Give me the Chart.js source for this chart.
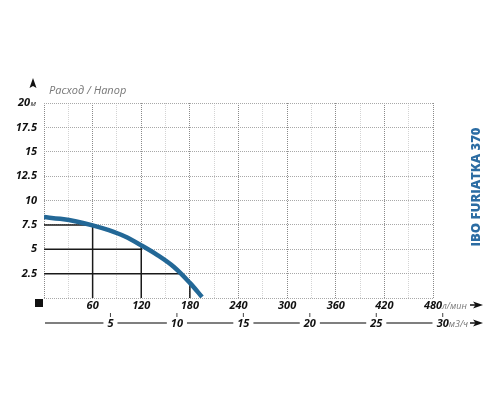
<!DOCTYPE html>
<html>
<head>
<meta charset="utf-8">
<script src="https://cdn.jsdelivr.net/npm/chart.js@4/dist/chart.umd.min.js"></script>
<style>
  html, body { margin: 0; background: #fff; }
</style>
</head>
<body>
<canvas id="pumpChart" width="500" height="400"></canvas>
<script>
// pump curve, l/min vs head in metres
const flowCurve = [0, 20, 40, 60, 80, 100, 120, 140, 160, 180, 195];
const headCurve = [8.3, 8.12, 7.85, 7.45, 6.95, 6.3, 5.4, 4.4, 3.2, 1.55, 0.1];

// black guide lines
const hGuideHeads = [7.5, 5, 2.5];
const hGuideEnds = [60, 120, 168];
const vGuideFlows = [60, 120, 180];
const vGuideTops = [7.5, 5.3, 1.5];

const flowTicks = [60, 120, 180, 240, 300, 360, 420, 480];
const headTicks = [2.5, 5, 7.5, 10, 12.5, 15, 17.5];
const m3hTicks = [5, 10, 15, 20, 25, 30];
const lpmPerM3h = 16.4;

const boldItalic = { family: "'Open Sans', sans-serif", size: 11, style: "italic", weight: "bold" };

const guideSets = [];
hGuideHeads.forEach((h, i) => {
  guideSets.push({
    data: [{ x: 0, y: h }, { x: hGuideEnds[i], y: h }],
    borderColor: "#1a1a1a", borderWidth: 1.5, showLine: true, pointRadius: 0,
  });
});
vGuideFlows.forEach((f, i) => {
  guideSets.push({
    data: [{ x: f, y: 0 }, { x: f, y: vGuideTops[i] }],
    borderColor: "#1a1a1a", borderWidth: 1.5, showLine: true, pointRadius: 0,
  });
});

const arrowRight = (ctx, x, y) => {
  ctx.fillStyle = "#111";
  ctx.fillRect(x, y - 0.75, 7, 1.5);
  ctx.beginPath();
  ctx.moveTo(x + 13, y);
  ctx.lineTo(x + 3, y - 3.5);
  ctx.lineTo(x + 5.5, y);
  ctx.lineTo(x + 3, y + 3.5);
  ctx.closePath();
  ctx.fill();
};

const decorations = {
  id: "decorations",
  afterDraw(chart) {
    const { ctx, scales: { x, y } } = chart;
    ctx.save();

    // top of the head axis
    const yTop = y.getPixelForValue(20);
    ctx.fillStyle = "#111";
    ctx.font = "italic bold 11px 'Open Sans'";
    ctx.textAlign = "right";
    ctx.textBaseline = "middle";
    ctx.fillText("20", 30, yTop);
    ctx.font = "italic 8px 'Open Sans'";
    ctx.textAlign = "left";
    ctx.fillText("м", 30.5, yTop + 1);

    // up arrow
    ctx.beginPath();
    ctx.moveTo(33, 78);
    ctx.lineTo(36.5, 88);
    ctx.lineTo(33, 86);
    ctx.lineTo(29.5, 88);
    ctx.closePath();
    ctx.fill();

    ctx.fillStyle = "#777";
    ctx.font = "italic 11px 'Open Sans'";
    ctx.fillText("Расход / Напор", 49, 91);

    // origin square
    ctx.fillStyle = "#111";
    ctx.fillRect(35, 299, 8, 8);

    // l/min unit
    const xEnd = x.getPixelForValue(480);
    ctx.fillStyle = "#777";
    ctx.font = "italic 9px 'Open Sans'";
    ctx.fillText("л/мин", xEnd + 9, 306);
    arrowRight(ctx, xEnd + 37, 305);

    // m3/h axis
    const yM = 323;
    ctx.strokeStyle = "#555";
    ctx.lineWidth = 1.5;
    ctx.beginPath();
    ctx.moveTo(45, yM);
    ctx.lineTo(x.getPixelForValue(30 * lpmPerM3h) - 10, yM);
    ctx.stroke();

    m3hTicks.forEach((v) => {
      const px = x.getPixelForValue(v * lpmPerM3h);
      ctx.font = "italic bold 11px 'Open Sans'";
      const w = ctx.measureText(String(v)).width;
      ctx.fillStyle = "#fff";
      ctx.fillRect(px - w / 2 - 4, yM - 4, w + 8, 8);
      ctx.fillStyle = "#111";
      ctx.textAlign = "center";
      ctx.fillText(String(v), px, yM + 1);
      ctx.fillStyle = "#444";
      ctx.fillRect(px - 0.5, 313, 1, 4);
    });
    const x30 = x.getPixelForValue(30 * lpmPerM3h);
    ctx.fillStyle = "#777";
    ctx.font = "italic 9px 'Open Sans'";
    ctx.textAlign = "left";
    ctx.fillText("м3/ч", x30 + 6, yM + 1);
    arrowRight(ctx, xEnd + 37, yM);

    // model name
    ctx.translate(476, 187);
    ctx.rotate(-Math.PI / 2);
    ctx.fillStyle = "#2b6ca3";
    ctx.font = "800 13px 'Open Sans'";
    ctx.textAlign = "center";
    ctx.fillText("IBO FURIATKA 370", 0, 0);

    ctx.restore();
  },
};

new Chart(document.getElementById("pumpChart"), {
  type: "scatter",
  data: {
    datasets: [
      {
        data: flowCurve.map((f, i) => ({ x: f, y: headCurve[i] })),
        borderColor: "#236897",
        borderWidth: 4.5,
        showLine: true,
        pointRadius: 0,
        tension: 0.35,
      },
      ...guideSets,
    ],
  },
  options: {
    responsive: false,
    animation: false,
    layout: { padding: { top: 103, left: 0, right: 67, bottom: 0 } },
    plugins: {
      legend: { display: false },
      tooltip: { enabled: false },
    },
    scales: {
      x: {
        type: "linear",
        min: 0,
        max: 480,
        afterBuildTicks: (s) => {
          s.ticks = [];
          for (let v = 0; v <= 480; v += 30) s.ticks.push({ value: v });
        },
        afterFit: (s) => { s.height = 102; s.paddingLeft = 0; s.paddingRight = 0; },
        ticks: {
          autoSkip: false,
          maxRotation: 0,
          padding: 1,
          color: "#111",
          font: boldItalic,
          callback: (v) => (flowTicks.includes(v) ? String(v) : ""),
        },
        grid: {
          drawTicks: false,
          lineWidth: 1,
          color: (c) => (c.tick && c.tick.value % 60 === 0 ? "#8a8a8a" : "#d4d4d4"),
        },
        border: { display: false, dash: [1, 1] },
      },
      y: {
        type: "linear",
        min: 0,
        max: 20,
        afterBuildTicks: (s) => {
          s.ticks = [];
          for (let v = 0; v <= 20; v += 2.5) s.ticks.push({ value: v });
        },
        afterFit: (s) => { s.width = 44; s.paddingTop = 0; s.paddingBottom = 0; },
        ticks: {
          padding: 7,
          color: "#111",
          font: boldItalic,
          callback: (v) => (headTicks.includes(v) ? String(v) : ""),
        },
        grid: {
          drawTicks: false,
          lineWidth: 1,
          color: "#a8a8a8",
        },
        border: { display: false, dash: [1, 1] },
      },
    },
  },
  plugins: [decorations],
});
</script>
</body>
</html>
